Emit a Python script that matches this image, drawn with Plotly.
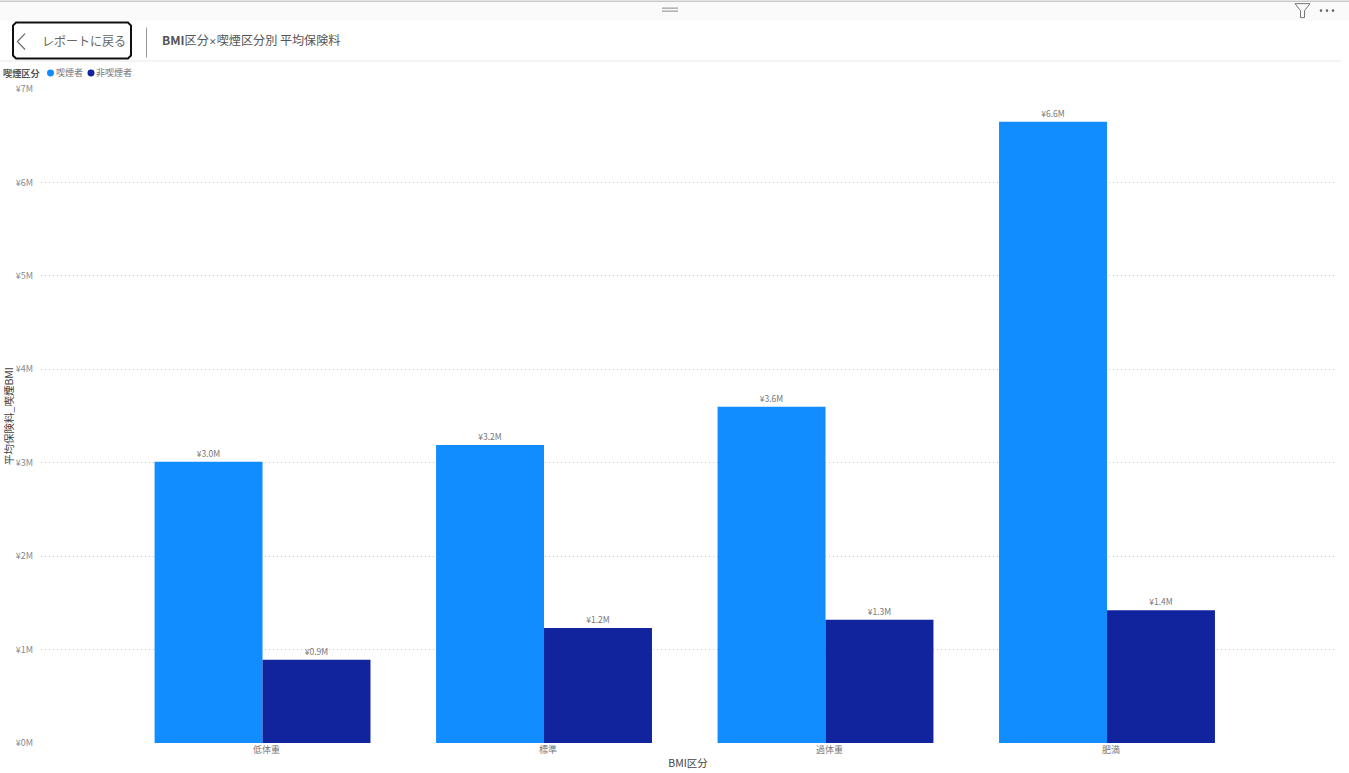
import plotly.graph_objects as go

W, H = 1349, 773
L, R, T, B = 41, 1335, 88.5, 743.5

categories = ["低体重", "標準", "過体重", "肥満"]
smoker = [3.01, 3.19, 3.60, 6.649]
non_smoker = [0.89, 1.23, 1.32, 1.42]
series_names = ["喫煙者", "非喫煙者"]
colors = ["#118DFF", "#12239E"]
FONT = "Noto Sans CJK JP"
GREY = "#666666"

def px(x):
    return (x - L) / (R - L)
def py(y):
    return (B - y) / (B - T)

fig = go.Figure()
for name, vals, col in zip(series_names, [smoker, non_smoker], colors):
    fig.add_trace(go.Bar(
        name=name, x=categories, y=vals, marker=dict(color=col, line=dict(width=0)),
        texttemplate="¥%{y:.1f}M", textposition="outside", cliponaxis=False,
        textfont=dict(size=8.5, color="#777777", family=FONT),
        showlegend=False,
    ))

shapes = []
def rect(x0, y0, x1, y1, fill, line=None, lw=0):
    shapes.append(dict(type="rect", xref="paper", yref="paper", x0=px(x0), x1=px(x1), y0=py(y0), y1=py(y1),
                       fillcolor=fill, line=dict(color=line or fill, width=lw), layer="below"))
def line(x0, y0, x1, y1, col, lw=1):
    shapes.append(dict(type="line", xref="paper", yref="paper", x0=px(x0), x1=px(x1), y0=py(y0), y1=py(y1),
                       line=dict(color=col, width=lw), layer="above"))
def path(points, col, lw=1, closed=False):
    d = "M" + " L".join(f"{px(a):.5f},{py(b):.5f}" for a, b in points) + (" Z" if closed else "")
    shapes.append(dict(type="path", xref="paper", yref="paper", path=d, line=dict(color=col, width=lw)))
def dot(cx, cy, r, fill):
    shapes.append(dict(type="circle", xref="paper", yref="paper", x0=px(cx - r), x1=px(cx + r),
                       y0=py(cy + r), y1=py(cy - r), fillcolor=fill, line=dict(width=0)))

# top band, separators
rect(0, 0, 1349, 20, "#FAFAFA")
line(0, 0.5, 1349, 0.5, "#C8C8C8", 1.5)
line(0, 60.5, 1341, 60.5, "#E8E8E8", 1)
line(662, 7.5, 678, 7.5, "#888888", 1)
line(662, 10.5, 678, 10.5, "#888888", 1)
# back button
r = 3
path([(13 + r, 22), (131 - r, 22), (131, 22 + r), (131, 58 - r), (131 - r, 58), (13 + r, 58), (13, 58 - r), (13, 22 + r)],
     "#111111", 2, True)
path([(25, 33), (17.5, 41), (25, 49)], "#6E6E6E", 1.3)
line(146.5, 27, 146.5, 57, "#999999", 1)
# filter icon and more dots
path([(1295, 3), (1310, 3), (1304.5, 10), (1304.5, 17), (1300.5, 17), (1300.5, 10)], "#777777", 1, True)
for cx in (1321, 1327, 1333):
    dot(cx, 10, 1.3, "#666666")
# legend
dot(50.5, 72.5, 3.5, colors[0])
dot(91, 72.5, 3.5, colors[1])

def text(x, y, s, size, col=GREY, anchor="left"):
    return dict(xref="paper", yref="paper", x=px(x), y=py(y), text=s, showarrow=False, xanchor=anchor, yanchor="middle",
                font=dict(size=size, color=col, family=FONT), borderpad=0, borderwidth=0)

annotations = [
    text(41.5, 40, "レポートに戻る", 12, "#666666"),
    text(162, 39, "<b>BMI</b>区分<b><span style='font-size:8px'>×</span></b>喫煙区分別 平均保険料", 12.1, "#555555"),
    text(3, 72, "<b>喫煙区分</b>", 9.2, "#555555"),
    text(56, 72, series_names[0], 9, "#777777"),
    text(96, 72, series_names[1], 9, "#777777"),
]

fig.update_layout(
    width=W, height=H, autosize=False,
    margin=dict(l=L, r=W - R, t=T, b=H - B, pad=0, autoexpand=False),
    paper_bgcolor="white", plot_bgcolor="white",
    barmode="group", bargap=0.233, bargroupgap=0,
    font=dict(family=FONT, color=GREY),
    shapes=shapes, annotations=annotations,
    xaxis=dict(
        type="category", range=[-0.787, 3.81], showgrid=False, zeroline=False, showline=False, ticks="",
        automargin=False, ticklabelshift=4,
        tickfont=dict(size=9, color="#777777", family=FONT),
        title=dict(text="BMI区分", font=dict(size=10.5, color="#444444", family=FONT), standoff=4),
    ),
    yaxis=dict(
        range=[0, 7], dtick=1, tickprefix="¥", ticksuffix="M", tickformat="d",
        showgrid=True, gridcolor="#C8C8C8", griddash="1px,3px", gridwidth=1, zeroline=False, showline=False, ticks="",
        automargin=False, ticklabelstandoff=7,
        tickfont=dict(size=9, color="#888888", family=FONT),
        title=dict(text="平均保険料_喫煙BMI", font=dict(size=10.5, color="#444444", family=FONT), standoff=0),
    ),
)
fig.write_html("out.html", config=dict(displayModeBar=False),
               post_script="document.body.style.margin='0';document.documentElement.style.overflow='hidden';")
